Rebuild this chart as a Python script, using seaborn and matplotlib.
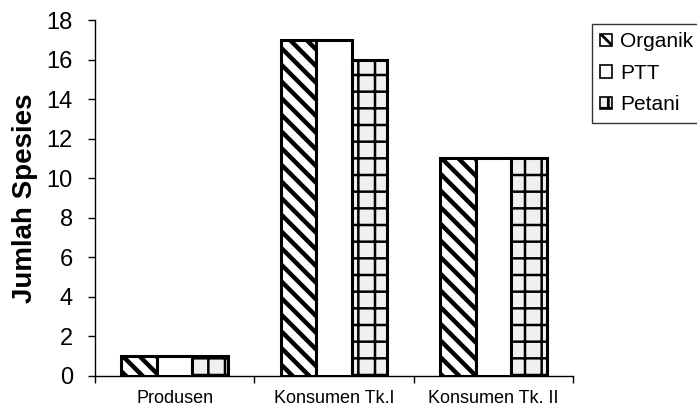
import matplotlib
matplotlib.use('Agg')
import matplotlib.pyplot as plt
from matplotlib.patches import Patch
import seaborn as sns
import pandas as pd

categories = ["Produsen", "Konsumen Tk.I", "Konsumen Tk. II"]
series = ["Organik", "PTT", "Petani"]
organik = [1, 17, 11]
ptt = [1, 17, 11]
petani = [1, 16, 11]
y_ticks = list(range(0, 19, 2))
y_label = "Jumlah Spesies"

hatches = ["\\\\", "", "+"]
hatch_lw = [3.2, 1.0, 1.8]
faces = ["white", "white", "#f0f0f0"]

sns.set_theme(style="white")
plt.rcParams['font.family'] = ['Liberation Sans', 'DejaVu Sans']
plt.rcParams['hatch.linewidth'] = 2.0
plt.rcParams['hatch.color'] = 'black'
for k in ['text.color', 'axes.labelcolor', 'xtick.color', 'ytick.color']:
    plt.rcParams[k] = 'black'

rows = []
for s, vals in zip(series, [organik, ptt, petani]):
    for c, v in zip(categories, vals):
        rows.append({"Kategori": c, "Seri": s, "Nilai": v})
df = pd.DataFrame(rows)

fig = plt.figure(figsize=(6.97, 4.08), dpi=100)
ax = fig.add_axes([95/697, 32/408, (573-95)/697, (376-20)/408])

sns.barplot(data=df, x="Kategori", y="Nilai", hue="Seri", order=categories,
            hue_order=series, palette=faces, saturation=1, width=0.67,
            edgecolor="black", linewidth=2.2, ax=ax, legend=False, errorbar=None)

for cont, h, hl in zip(ax.containers, hatches, hatch_lw):
    for bar in cont:
        bar.set_hatch(h)
        bar.set_edgecolor("black")
        try:
            bar.set_hatch_linewidth(hl)
        except Exception:
            pass

ax.set_xlim(-0.5, 2.5)
ax.set_ylim(0, 18)
ax.set_yticks(y_ticks)
ax.set_yticklabels([str(t) for t in y_ticks], fontsize=17, color='black')
ax.set_ylabel(y_label, fontsize=20, fontweight='bold', labelpad=6, color='black')
ax.set_xlabel("")
ax.set_xticks(range(len(categories)))
ax.set_xticklabels(categories, fontsize=13, color='black')
ax.set_xticks([-0.5, 0.5, 1.5, 2.5], minor=True)
ax.tick_params(axis='x', which='major', length=0, pad=10)
ax.tick_params(axis='x', which='minor', length=5, width=1, color='black', direction='out', bottom=True)
ax.tick_params(axis='y', length=5, width=1, color='black', direction='out', left=True, pad=11)
for side in ['top', 'right']:
    ax.spines[side].set_visible(False)
for side in ['left', 'bottom']:
    ax.spines[side].set_color('black')
    ax.spines[side].set_linewidth(1)

handles = [Patch(facecolor=f, edgecolor='black', hatch=h, linewidth=1.2, label=s)
           for s, f, h in zip(series, faces, hatches)]
leg = ax.legend(handles=handles, loc='upper left', bbox_to_anchor=(592/697, 1-24/408),
                bbox_transform=fig.transFigure, fontsize=15, frameon=True, fancybox=False,
                edgecolor='black', handlelength=0.55, handleheight=0.55, handletextpad=0.4,
                borderpad=0.4, labelspacing=0.6, borderaxespad=0)
leg.get_frame().set_linewidth(1)
for t in leg.get_texts():
    t.set_color('black')

fig.savefig("out.png", dpi=100)
